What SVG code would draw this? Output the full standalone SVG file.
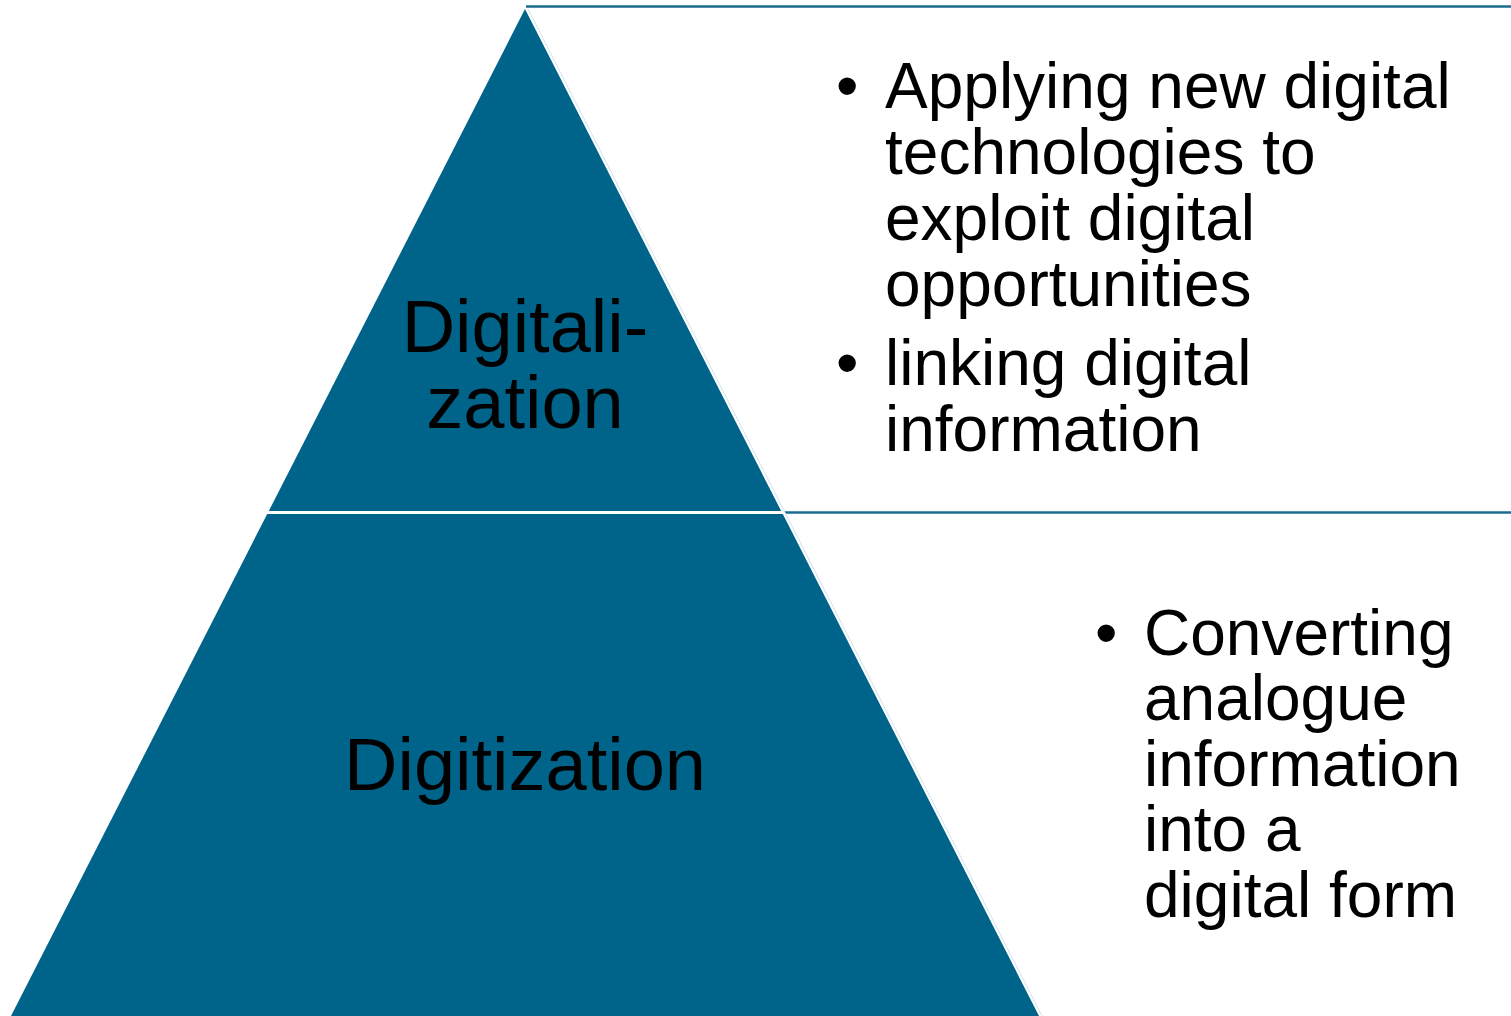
<svg xmlns="http://www.w3.org/2000/svg" width="1511" height="1016" viewBox="0 0 1511 1016">
<style>
.tier{fill:#00648a;}
.edge{fill:none;stroke:#cfe3ec;stroke-width:1;}
.rule{stroke:#1c6c90;stroke-width:2.5;fill:none;}
.lbl{font-family:"Liberation Sans",Arial,sans-serif;font-size:74px;fill:#000;text-anchor:middle;}
.txt{font-family:"Liberation Sans",Arial,sans-serif;font-size:64px;fill:#000;}
</style>
<rect width="1511" height="1016" fill="#ffffff"/>
<g id="connectors">
<line class="rule" x1="526" y1="6.5" x2="1511" y2="6.5"/>
<line class="rule" x1="785" y1="512.5" x2="1511" y2="512.5"/>
<line x1="268" y1="512.5" x2="785" y2="512.5" stroke="#ffffff" stroke-width="2.5"/>
<line class="edge" x1="528" y1="9" x2="1042" y2="1016"/>
</g>
<g id="node-digitalization">
<polygon class="tier" points="525,9 781.2,511 268.8,511"/>
<text class="lbl" x="525" y="352">Digitali-</text>
<text class="lbl" x="525" y="428">zation</text>
</g>
<g id="node-digitization">
<polygon class="tier" points="267.2,514 782.8,514 1039,1016 11,1016"/>
<text class="lbl" x="525" y="790">Digitization</text>
</g>
<g id="text-digitalization">
<text class="txt" x="836" y="108">•</text>
<text class="txt" x="885" y="108">Applying new digital</text>
<text class="txt" x="885" y="174">technologies to</text>
<text class="txt" x="885" y="240">exploit digital</text>
<text class="txt" x="885" y="306">opportunities</text>
<text class="txt" x="836" y="385">•</text>
<text class="txt" x="885" y="385">linking digital</text>
<text class="txt" x="885" y="451">information</text>
</g>
<g id="text-digitization">
<text class="txt" x="1095" y="655">•</text>
<text class="txt" x="1144" y="655">Converting</text>
<text class="txt" x="1144" y="720">analogue</text>
<text class="txt" x="1144" y="786">information</text>
<text class="txt" x="1144" y="851">into a</text>
<text class="txt" x="1144" y="917">digital form</text>
</g>
</svg>
